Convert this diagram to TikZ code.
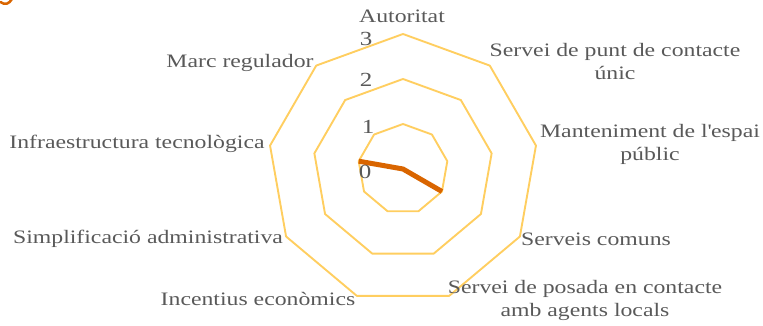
\documentclass[tikz,border=0pt]{standalone}
\usepackage{fontspec}
\usetikzlibrary{calc}
\setmainfont[FakeStretch=1.25]{Liberation Serif}
\definecolor{gridc}{RGB}{255,206,96}
\definecolor{datac}{RGB}{217,101,0}
\definecolor{txtc}{RGB}{89,89,89}
\newcommand\sqapos{\XeTeXglyph\XeTeXcharglyph"27\relax}
\begin{document}
\begin{tikzpicture}[x=1pt,y=1pt,
  lbl/.style={text=txtc,font=\fontsize{19}{23}\selectfont,inner sep=0pt,align=center},
  tick/.style={text=txtc,font=\fontsize{20}{20}\selectfont,inner sep=0pt},
  gridline/.style={draw=gridc,line width=1.9pt,line join=round},
  dataline/.style={draw=datac,line width=5pt,line join=round}]
\useasboundingbox (0,0) rectangle (763,325);
\coordinate (C) at (403,156);
% grid nonagons
\foreach \lev in {1,2,3}{
  \foreach \k in {0,...,8}{
    \coordinate (g\lev-\k) at ($(C)+({90-40*\k}:{45*\lev})$);
  }
  \draw[gridline] (g\lev-0) -- (g\lev-1) -- (g\lev-2) -- (g\lev-3) -- (g\lev-4) -- (g\lev-5) -- (g\lev-6) -- (g\lev-7) -- (g\lev-8) -- cycle;
}
% data
\coordinate (d3) at ($(C)+(-30:45)$);
\coordinate (d7) at ($(C)+(170:45)$);
\draw[dataline] (d7) -- (C) -- (d3);
% tick labels
\node[tick] (t3) at (366,286) {3};
\node[tick] (t2) at (366,245) {2};
\node[tick] (t1) at (368,198) {1};
\node[tick] (t0) at (365,153) {0};
% axis labels
\node[lbl] (l0) at (402,309) {Autoritat};
\node[lbl] (l1) at (615,264) {Servei de punt de contacte\\únic};
\node[lbl] (l2) at (650,181) {Manteniment de l\sqapos espai\\públic};
\node[lbl] (l3) at (596,86) {Serveis comuns};
\node[lbl] (l4) at (585,25) {Servei de posada en contacte\\amb agents locals};
\node[lbl] (l5) at (258,26) {Incentius econòmics};
\node[lbl] (l6) at (148,86) {Simplificació administrativa};
\node[lbl] (l7) at (137,181) {Infraestructura tecnològica};
\node[lbl] (l8) at (240,262) {Marc regulador};
% cropped title fragment
\draw[datac,line width=2.5pt,line cap=round] (0.5,323) .. controls (5,319.5) and (9,321) .. (12,326);
\end{tikzpicture}
\end{document}
